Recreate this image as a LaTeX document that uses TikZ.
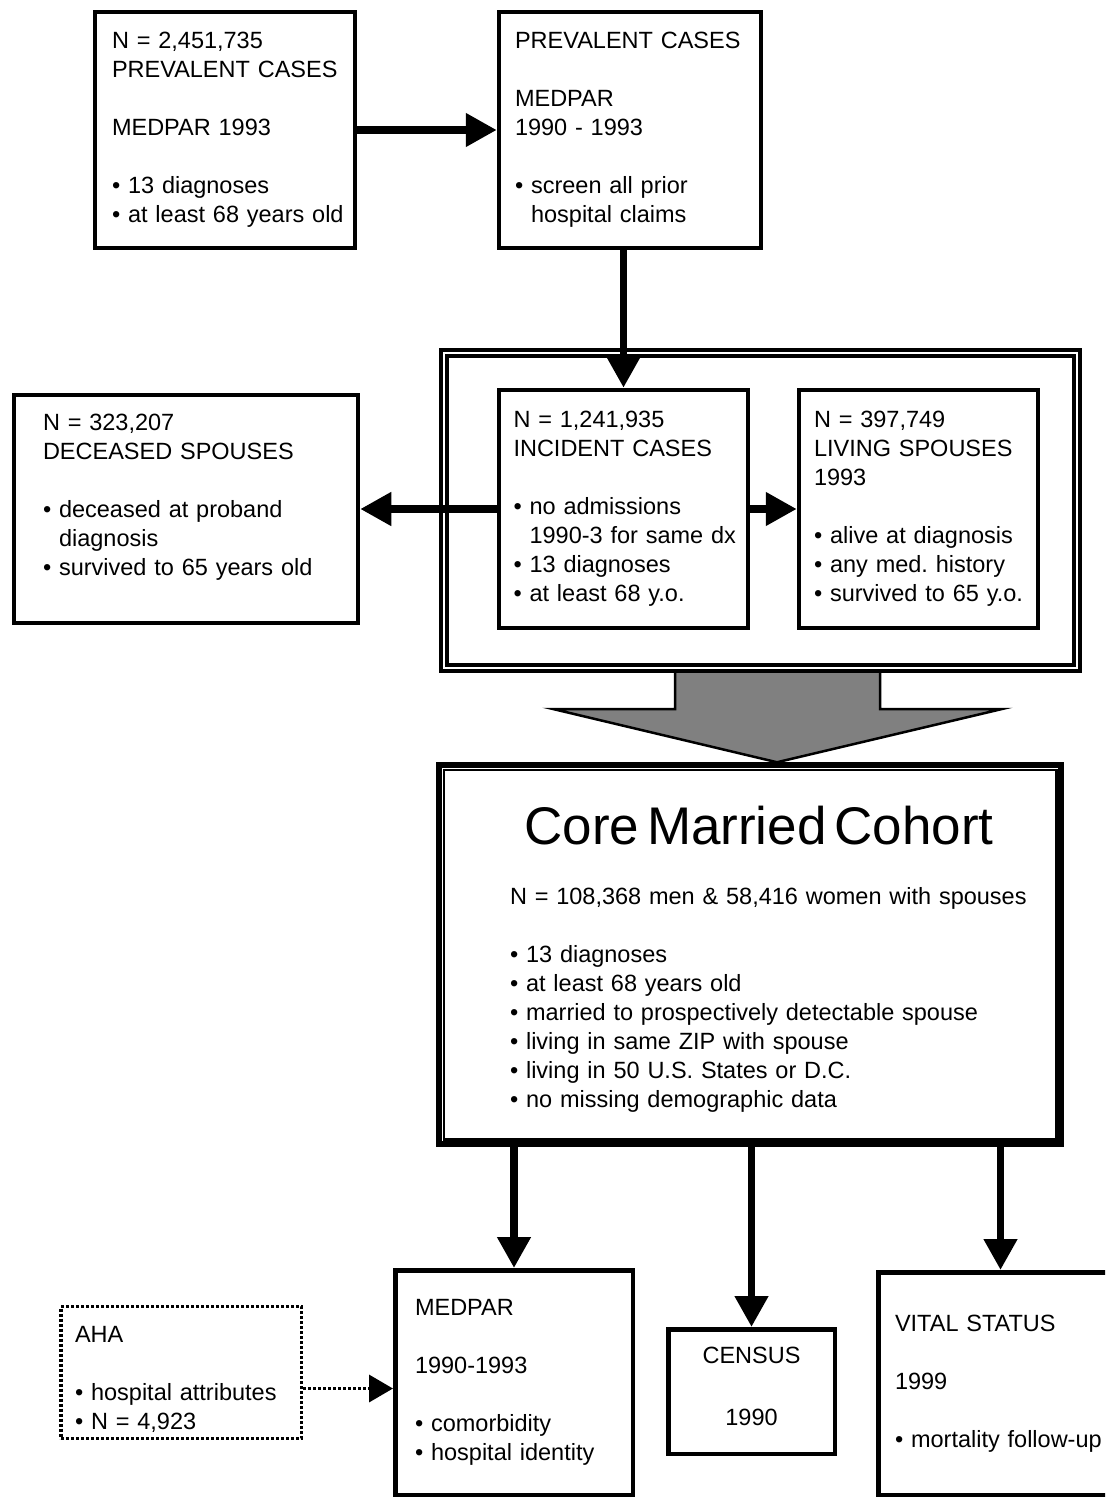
\documentclass[tikz,border=0pt]{standalone}
\usepackage{fontspec}
\setmainfont{Liberation Sans}
\usetikzlibrary{arrows.meta, positioning, calc, backgrounds}

\newcommand{\boxfont}{\frenchspacing\fontsize{23.5}{29}\selectfont}
\newcommand{\ind}{\hphantom{•\ }}

\begin{document}
\begin{tikzpicture}[x=1pt, y=-1pt,
  % box styles
  stepbox/.style={
    rectangle,
    draw,
    line width=4.5pt,
    inner sep=0pt,
    align=left,
    font=\boxfont
  },
  groupbox/.style={
    rectangle,
    draw,
    line width=3.5pt,
    double,
    double distance=2.5pt,
    inner sep=0pt
  },
  corebox/.style={
    rectangle,
    draw,
    line width=5.5pt,
    inner sep=0pt,
    align=left,
    font=\boxfont
  },
  sourcebox/.style={
    rectangle,
    draw,
    line width=3.5pt,
    dash pattern=on 3pt off 2pt,
    inner sep=0pt,
    align=left,
    font=\boxfont
  },
  arrow/.style={
    -{Triangle[length=31pt, width=32pt]},
    line width=7.5pt
  },
  linkarrow/.style={
    -{Triangle[length=24pt, width=27pt]},
    line width=3.5pt,
    dash pattern=on 3pt off 2pt
  },
  bigarrow/.style={
    draw,
    line width=2.5pt,
    fill=gray,
    line join=miter
  }
]
\useasboundingbox (0,0) rectangle (1105,1498);
\clip (0,0) rectangle (1105,1498);

% ===== PREVALENT CASES =====
\node[stepbox, minimum width=260pt, minimum height=236pt, text width=226pt] (prev) at (225,130)
  {N = 2,451,735\\PREVALENT CASES\\[29pt]MEDPAR 1993\\[29pt]• 13 diagnoses\\\mbox{• at least 68 years old}};

\node[stepbox, minimum width=262pt, minimum height=236pt, text width=230pt] (screen) at (630,130)
  {PREVALENT CASES\\[29pt]MEDPAR\\1990 - 1993\\[29pt]• screen all prior\\\ind hospital claims};

% ===== INCIDENT CASES + SPOUSES =====
\node[groupbox, minimum width=633pt, minimum height=315pt] (grp) at (760.5,510.5) {};

\node[stepbox, minimum width=249pt, minimum height=238pt, text width=220pt] (inc) at (623.5,509)
  {N = 1,241,935\\INCIDENT CASES\\[29pt]• no admissions\\\mbox{\ind 1990-3 for same dx}\\• 13 diagnoses\\• at least 68 y.o.};

\node[stepbox, minimum width=239pt, minimum height=238pt, text width=209pt] (liv) at (918.5,509)
  {N = 397,749\\LIVING SPOUSES\\1993\\[29pt]• alive at diagnosis\\• any med. history\\\mbox{• survived to 65 y.o.}};

\node[stepbox, minimum width=344pt, minimum height=228pt, text width=286pt] (dec) at (186,509)
  {N = 323,207\\DECEASED SPOUSES\\[29pt]• deceased at proband\\\ind diagnosis\\• survived to 65 years old\rule[-29pt]{0pt}{0pt}};

% ===== CORE COHORT =====
\node[corebox, minimum width=622pt, minimum height=379pt, text width=480pt] (core) at (750,954.5)
  {\rule{0pt}{48pt}\makebox[\linewidth][c]{\hspace*{18pt}\fontsize{53}{60}\selectfont Core Married Cohort}\\[31.5pt]
   \mbox{N = 108,368 men \& 58,416 women with spouses}\\[29pt]
   • 13 diagnoses\\
   • at least 68 years old\\
   • married to prospectively detectable spouse\\
   • living in same ZIP with spouse\\
   • living in 50 U.S. States or D.C.\\
   • no missing demographic data};
\draw[line width=2.5pt] ([shift={(7.5,7.5)}]core.north west) rectangle ([shift={(-7.5,-7.5)}]core.south east);

% ===== DATA SOURCES =====
\node[stepbox, minimum width=237.5pt, minimum height=224.5pt, text width=198pt] (med) at (514,1382.5)
  {MEDPAR\\[29pt]1990-1993\\[29pt]• comorbidity\\• hospital identity};

\node[stepbox, minimum width=166.5pt, minimum height=124.5pt, align=center] (cen) at (751.5,1391.5)
  {CENSUS\\[33pt]1990\rule[-10pt]{0pt}{0pt}};

\node[stepbox, minimum width=244.5pt, minimum height=222.5pt, text width=211pt] (vit) at (1000.5,1383.5)
  {VITAL STATUS\\[29pt]1999\\[29pt]• mortality follow-up};

\node[sourcebox, minimum width=240.5pt, minimum height=132pt, text width=212pt] (aha) at (181,1372.5)
  {\rule{0pt}{30pt}AHA\\[29pt]• hospital attributes\\• N = 4,923};

% ===== ARROWS =====
\draw[arrow] (prev) -- (screen);
\draw[arrow] (screen.south -| inc.north) -- (inc.north);
\draw[arrow] (inc) -- (dec);
\draw[arrow] (inc) -- (liv);

\begin{scope}[on background layer]
\draw[bigarrow] (675,0 |- grp.south) -- (675,709) -- (553,709) -- (777,0 |- core.north)
  -- (1002,709) -- (880,709) -- (880,0 |- grp.south) -- cycle;
\end{scope}

\draw[arrow] (core.south -| med.north) -- (med.north);
\draw[arrow] (core.south -| cen.north) -- (cen.north);
\draw[arrow] (core.south -| vit.north) -- (vit.north);

\draw[linkarrow] (aha.east) ++(0,16) coordinate (ahaout) -- (ahaout -| med.west);

\end{tikzpicture}
\end{document}
